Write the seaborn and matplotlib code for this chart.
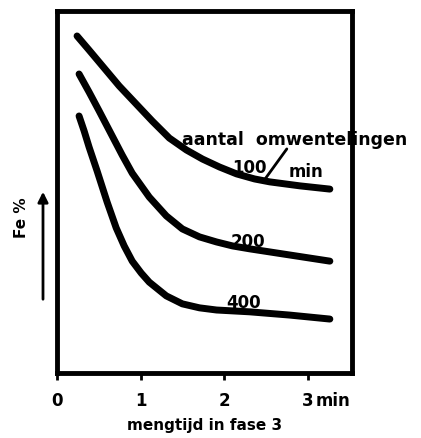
import matplotlib
matplotlib.use("Agg")
import matplotlib.pyplot as plt
import seaborn as sns
import pandas as pd

sns.set_style("white")
plt.rcParams['font.family'] = ['DejaVu Sans']
plt.rcParams['text.color'] = 'black'
plt.rcParams['xtick.color'] = 'black'
plt.rcParams['axes.labelcolor'] = 'black'

# data (x in min, y in relative Fe %)
x_100 = [0.240, 0.384, 0.504, 0.624, 0.744, 0.948, 1.140, 1.344, 1.549, 1.741, 1.945, 2.149, 2.365, 2.545, 2.905, 3.265]
y_100 = [93.1, 89.2, 85.9, 82.6, 79.3, 74.3, 69.6, 64.9, 61.6, 59.1, 56.9, 55.0, 53.6, 52.8, 51.7, 50.8]

x_200 = [0.264, 0.384, 0.504, 0.624, 0.780, 0.900, 1.104, 1.308, 1.500, 1.705, 1.909, 2.101, 2.305, 2.785, 3.265]
y_200 = [82.6, 77.6, 72.4, 67.1, 60.2, 55.2, 48.6, 43.4, 39.8, 37.6, 36.2, 35.1, 34.3, 32.6, 30.9]

x_400 = [0.264, 0.324, 0.384, 0.480, 0.600, 0.708, 0.804, 0.900, 1.008, 1.104, 1.308, 1.500, 1.705, 1.909, 2.305, 2.785, 3.265]
y_400 = [71.0, 66.9, 62.4, 55.8, 47.2, 40.1, 35.1, 30.9, 27.6, 25.1, 21.3, 19.1, 18.0, 17.4, 16.9, 16.0, 14.9]

speeds = ["100", "200", "400"]
xticks = [0, 1, 2, 3]
xtick_labels = ["0", "1", "2", "3"]

df = pd.concat([
    pd.DataFrame({"t": x_100, "fe": y_100, "speed": "100"}),
    pd.DataFrame({"t": x_200, "fe": y_200, "speed": "200"}),
    pd.DataFrame({"t": x_400, "fe": y_400, "speed": "400"}),
])

fig = plt.figure(figsize=(4.21, 4.39), dpi=100)
ax = fig.add_axes([57/421, 1-374/439, (352-57)/421, (374-12)/439])

sns.lineplot(data=df, x="t", y="fe", hue="speed", units="speed", estimator=None,
             palette=["black"]*3, legend=False, linewidth=5, sort=False, ax=ax,
             solid_capstyle="round", solid_joinstyle="round")

ax.set_xlim(0, 3.53)
ax.set_ylim(0, 100)
ax.set_xticks(xticks)
ax.set_xticklabels(xtick_labels, fontsize=12, fontweight="bold", color="black")
ax.set_yticks([])
ax.tick_params(axis="x", direction="out", length=5, width=2, pad=8, bottom=True,
               colors="black")
for s in ax.spines.values():
    s.set_linewidth(3.5)
    s.set_color("black")
ax.set_xlabel("mengtijd in fase 3", fontsize=11, fontweight="bold", labelpad=6,
              color="black")
ax.set_ylabel("")

ax.text(3.10, -0.075, "min", transform=ax.get_xaxis_transform(), fontsize=12,
        fontweight="bold", ha="left", va="center", color="black")

# curve labels
lab_pos = {"100": (2.30, 56.9), "200": (2.29, 36.5), "400": (2.23, 19.6)}
for sp in speeds:
    ax.text(*lab_pos[sp], sp, fontsize=12, fontweight="bold", ha="center",
            va="center", color="black")

ax.text(1.50, 64.6, "aantal  omwentelingen", fontsize=12.5, fontweight="bold",
        ha="left", va="center", clip_on=False, color="black")
ax.text(2.98, 55.8, "min", fontsize=12, fontweight="bold", ha="center",
        va="center", color="black")
ax.plot([2.75, 2.49], [61.9, 53.6], color="black", lw=2)

# y label with arrow
fig.text(22/421, 1-218/439, "Fe %", rotation=90, fontsize=11, fontweight="bold",
         ha="center", va="center", color="black")
fig.add_artist(matplotlib.patches.FancyArrowPatch(
    (43/421, 1-303/439), (43/421, 1-190/439), transform=fig.transFigure,
    arrowstyle="-|>,head_length=6,head_width=3", color="black", lw=2))

fig.savefig("out.png", dpi=100)
